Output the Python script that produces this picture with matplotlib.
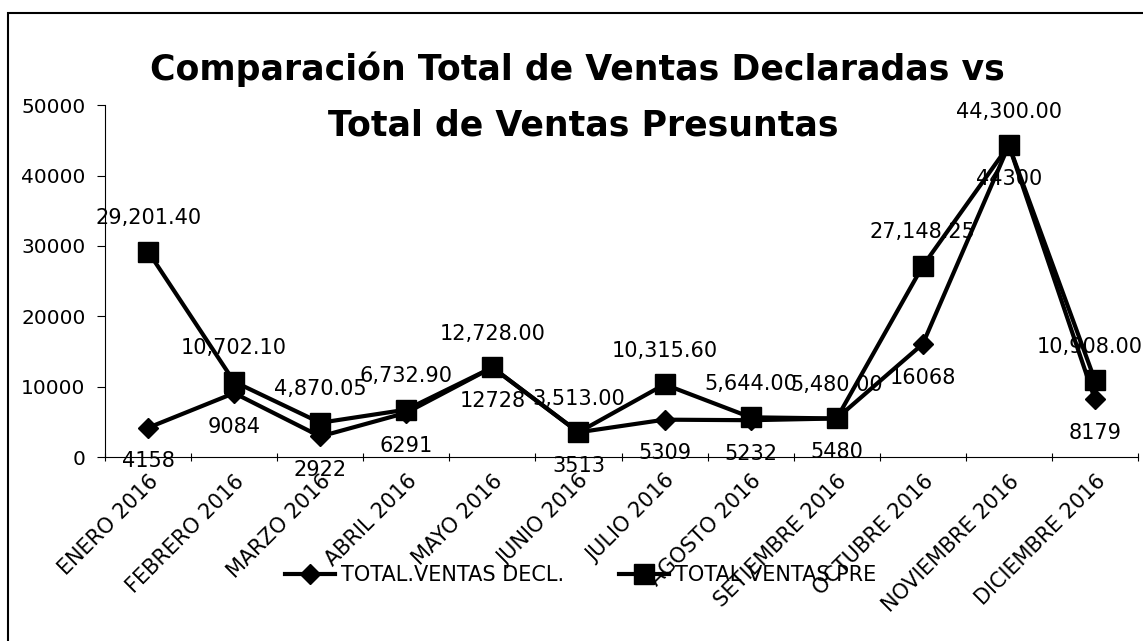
import numpy as np
import matplotlib.pyplot as plt

meses = ['ENERO 2016', 'FEBRERO 2016', 'MARZO 2016', 'ABRIL 2016', 'MAYO 2016',
         'JUNIO 2016', 'JULIO 2016', 'AGOSTO 2016', 'SETIEMBRE 2016',
         'OCTUBRE 2016', 'NOVIEMBRE 2016', 'DICIEMBRE 2016']
ventas_decl = [4158, 9084, 2922, 6291, 12728, 3513, 5309, 5232, 5480, 16068, 44300, 8179]
ventas_pres = [29201.40, 10702.10, 4870.05, 6732.90, 12728.00, 3513.00, 10315.60,
               5644.00, 5480.00, 27148.25, 44300.00, 10908.00]
titulo = ['Comparación Total de Ventas Declaradas vs', 'Total de Ventas Presuntas']

plt.rcParams['font.family'] = ['DejaVu Sans']

fig = plt.figure(figsize=(11.43, 6.41), dpi=100)
ax = fig.add_axes([0.0919, 0.287, 0.9037, 0.549])

x = np.arange(len(meses))
ax.plot(x, ventas_decl, color='black', lw=3, marker='D', ms=10,
        label='TOTAL.VENTAS DECL.')
ax.plot(x, ventas_pres, color='black', lw=3, marker='s', ms=15,
        label='TOTAL VENTAS PRE')

for xi, v in zip(x, ventas_decl):
    ax.annotate(f'{v}', (xi, v), xytext=(0, -17), textcoords='offset points',
                ha='center', va='top', fontsize=15)
for xi, v in zip(x, ventas_pres):
    # last label sits against the right edge, nudge it in a bit
    dx = -4 if xi == x[-1] else 0
    ax.annotate(f'{v:,.2f}', (xi, v), xytext=(dx, 17), textcoords='offset points',
                ha='center', va='bottom', fontsize=15)

ax.set_xlim(-0.5, len(meses) - 0.5)
ax.set_ylim(0, 50000)
ax.set_yticks(np.arange(0, 50001, 10000))
ax.set_xticks(np.arange(-0.5, len(meses), 1.0), minor=False)
ax.set_xticklabels([])
ax.set_xticks(x, minor=True)
ax.set_xticklabels(meses, minor=True, rotation=45, ha='right',
                   rotation_mode='anchor', fontsize=15)
ax.tick_params(axis='x', which='minor', length=0, pad=10)
ax.tick_params(axis='x', which='major', length=6, direction='inout')
ax.tick_params(axis='y', labelsize=14.5, length=6, pad=8)
for s in ['top', 'right']:
    ax.spines[s].set_visible(False)

fig.text(0.505, 0.892, titulo[0], ha='center', va='center',
         fontsize=25, fontweight='bold')
fig.text(0.51, 0.804, titulo[1], ha='center', va='center',
         fontsize=25, fontweight='bold')

fig.legend(loc='center', bbox_to_anchor=(0.508, 0.103), ncol=2, frameon=False,
           fontsize=15, handlelength=2.4, handletextpad=0.3, columnspacing=2.6)

border = plt.Rectangle((0.007, -0.1), 1.2, 1.08, transform=fig.transFigure,
                       fill=False, lw=1.5, edgecolor='black')
fig.add_artist(border)

fig.savefig('out.png', dpi=100)
